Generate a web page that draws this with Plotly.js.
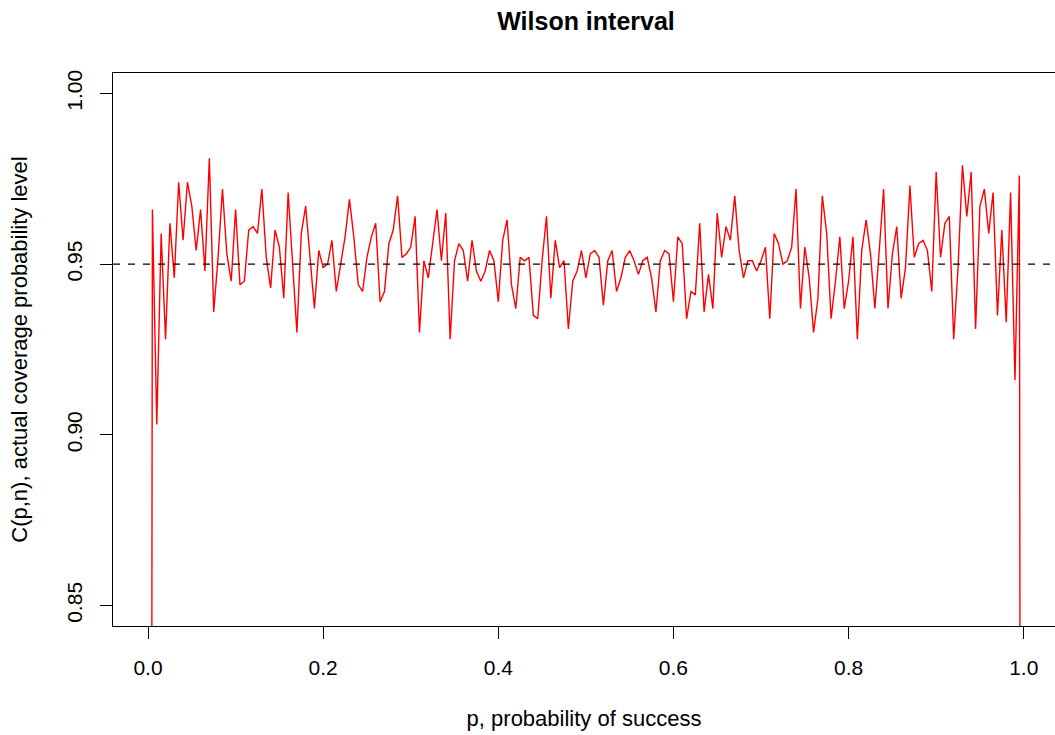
<!DOCTYPE html>
<html>
<head>
<meta charset="utf-8">
<script src="https://cdn.plot.ly/plotly-3.0.1.min.js"></script>
<style>
  html, body { margin: 0; padding: 0; background: #ffffff; overflow: hidden; }
  #chart { width: 1055px; height: 735px; }
</style>
</head>
<body>
<div id="chart"></div>
<script>
// p, probability of success (grid 0 .. 1, step 0.005)
const pValues = [
  0.000, 0.005, 0.010, 0.015, 0.020, 0.025, 0.030, 0.035, 0.040, 0.045,
  0.050, 0.055, 0.060, 0.065, 0.070, 0.075, 0.080, 0.085, 0.090, 0.095,
  0.100, 0.105, 0.110, 0.115, 0.120, 0.125, 0.130, 0.135, 0.140, 0.145,
  0.150, 0.155, 0.160, 0.165, 0.170, 0.175, 0.180, 0.185, 0.190, 0.195,
  0.200, 0.205, 0.210, 0.215, 0.220, 0.225, 0.230, 0.235, 0.240, 0.245,
  0.250, 0.255, 0.260, 0.265, 0.270, 0.275, 0.280, 0.285, 0.290, 0.295,
  0.300, 0.305, 0.310, 0.315, 0.320, 0.325, 0.330, 0.335, 0.340, 0.345,
  0.350, 0.355, 0.360, 0.365, 0.370, 0.375, 0.380, 0.385, 0.390, 0.395,
  0.400, 0.405, 0.410, 0.415, 0.420, 0.425, 0.430, 0.435, 0.440, 0.445,
  0.450, 0.455, 0.460, 0.465, 0.470, 0.475, 0.480, 0.485, 0.490, 0.495,
  0.500, 0.505, 0.510, 0.515, 0.520, 0.525, 0.530, 0.535, 0.540, 0.545,
  0.550, 0.555, 0.560, 0.565, 0.570, 0.575, 0.580, 0.585, 0.590, 0.595,
  0.600, 0.605, 0.610, 0.615, 0.620, 0.625, 0.630, 0.635, 0.640, 0.645,
  0.650, 0.655, 0.660, 0.665, 0.670, 0.675, 0.680, 0.685, 0.690, 0.695,
  0.700, 0.705, 0.710, 0.715, 0.720, 0.725, 0.730, 0.735, 0.740, 0.745,
  0.750, 0.755, 0.760, 0.765, 0.770, 0.775, 0.780, 0.785, 0.790, 0.795,
  0.800, 0.805, 0.810, 0.815, 0.820, 0.825, 0.830, 0.835, 0.840, 0.845,
  0.850, 0.855, 0.860, 0.865, 0.870, 0.875, 0.880, 0.885, 0.890, 0.895,
  0.900, 0.905, 0.910, 0.915, 0.920, 0.925, 0.930, 0.935, 0.940, 0.945,
  0.950, 0.955, 0.960, 0.965, 0.970, 0.975, 0.980, 0.985, 0.990, 0.995,
  1.000
];

// C(p,n), actual coverage probability level
const coverage = [
  0.000,
  0.966, 0.903, 0.959, 0.928, 0.962, 0.946, 0.974, 0.957, 0.974, 0.967,
  0.954, 0.966, 0.948, 0.981, 0.936, 0.952, 0.972, 0.953, 0.945, 0.966,
  0.944, 0.945, 0.960, 0.961, 0.959, 0.972, 0.952, 0.943, 0.960, 0.955,
  0.940, 0.971, 0.951, 0.930, 0.959, 0.967, 0.952, 0.937, 0.954, 0.949,
  0.950, 0.957, 0.942, 0.950, 0.958, 0.969, 0.958, 0.944, 0.942, 0.952,
  0.958, 0.962, 0.939, 0.942, 0.956, 0.960, 0.970, 0.952, 0.953, 0.955,
  0.964, 0.930, 0.951, 0.946, 0.956, 0.966, 0.951, 0.965, 0.928, 0.951,
  0.956, 0.954, 0.945, 0.957, 0.948, 0.945, 0.948, 0.954, 0.951, 0.939,
  0.957, 0.963, 0.944, 0.937, 0.952, 0.951, 0.952, 0.935, 0.934, 0.951,
  0.964, 0.940, 0.957, 0.949, 0.951, 0.931, 0.945, 0.948, 0.954, 0.946,
  0.953, 0.954, 0.952, 0.938, 0.951, 0.954, 0.942, 0.946, 0.952, 0.954,
  0.951, 0.947, 0.951, 0.952, 0.946, 0.936, 0.951, 0.954, 0.953, 0.939,
  0.958, 0.956, 0.934, 0.942, 0.941, 0.962, 0.936, 0.947, 0.937, 0.965,
  0.952, 0.961, 0.957, 0.970, 0.954, 0.946, 0.951, 0.951, 0.948, 0.951,
  0.955, 0.934, 0.959, 0.956, 0.950, 0.951, 0.955, 0.972, 0.937, 0.955,
  0.946, 0.930, 0.940, 0.970, 0.959, 0.934, 0.945, 0.958, 0.937, 0.945,
  0.958, 0.928, 0.954, 0.963, 0.953, 0.937, 0.954, 0.972, 0.937, 0.953,
  0.961, 0.940, 0.949, 0.973, 0.952, 0.956, 0.957, 0.954, 0.942, 0.977,
  0.952, 0.962, 0.964, 0.928, 0.949, 0.979, 0.964, 0.977, 0.931, 0.967,
  0.972, 0.959, 0.971, 0.935, 0.960, 0.933, 0.971, 0.916, 0.976,
  0.000
];

const nominalLevel = 0.95;

const xTickVals = [0.0, 0.2, 0.4, 0.6, 0.8, 1.0];
const xTickText = ['0.0', '0.2', '0.4', '0.6', '0.8', '1.0'];
const yTickVals = [0.85, 0.90, 0.95, 1.00];
const yTickText = ['0.85', '0.90', '0.95', '1.00'];

const FONT = 'Liberation Sans, Arial, Helvetica, sans-serif';

const trace = {
  x: pValues,
  y: coverage,
  type: 'scatter',
  mode: 'lines',
  line: { color: '#FF0000', width: 1.4 },
  hoverinfo: 'x+y',
  showlegend: false
};

const layout = {
  width: 1055,
  height: 735,
  paper_bgcolor: '#ffffff',
  plot_bgcolor: '#ffffff',
  margin: { l: 113, r: 0, t: 73, b: 109, pad: 0 },
  font: { family: FONT, size: 21, color: '#000000' },
  title: {
    text: '<b>Wilson interval</b>',
    font: { family: FONT, size: 25, color: '#000000' },
    xref: 'container', x: 586 / 1055, xanchor: 'center',
    yref: 'container', y: 1 - 21 / 735, yanchor: 'middle'
  },
  xaxis: {
    range: [-0.04, 1.0357],
    tickmode: 'array',
    tickvals: xTickVals,
    ticktext: xTickText,
    ticks: 'outside',
    ticklen: 12,
    tickwidth: 1,
    tickcolor: '#000000',
    ticklabelstandoff: 11,
    tickfont: { family: FONT, size: 21, color: '#000000' },
    showline: true,
    linecolor: '#000000',
    linewidth: 1,
    mirror: true,
    showgrid: false,
    zeroline: false,
    automargin: false,
    title: {
      text: 'p, probability of success',
      font: { family: FONT, size: 22, color: '#000000' },
      standoff: 32
    }
  },
  yaxis: {
    range: [0.844, 1.006],
    tickmode: 'array',
    tickvals: yTickVals,
    ticktext: yTickText,
    tickangle: -90,
    ticks: 'outside',
    ticklen: 12,
    tickwidth: 1,
    tickcolor: '#000000',
    ticklabelstandoff: 10,
    tickfont: { family: FONT, size: 21, color: '#000000' },
    showline: true,
    linecolor: '#000000',
    linewidth: 1,
    mirror: false,
    showgrid: false,
    zeroline: false,
    automargin: false,
    title: {
      text: 'C(p,n), actual coverage probability level',
      font: { family: FONT, size: 22, color: '#000000' },
      standoff: 28
    }
  },
  shapes: [{
    type: 'line',
    xref: 'paper', x0: 0, x1: 1,
    yref: 'y', y0: nominalLevel, y1: nominalLevel,
    line: { color: '#000000', width: 1.3, dash: '7px,8px' },
    layer: 'above'
  }]
};

Plotly.newPlot('chart', [trace], layout, { displayModeBar: false, staticPlot: false, responsive: false });
</script>
</body>
</html>
